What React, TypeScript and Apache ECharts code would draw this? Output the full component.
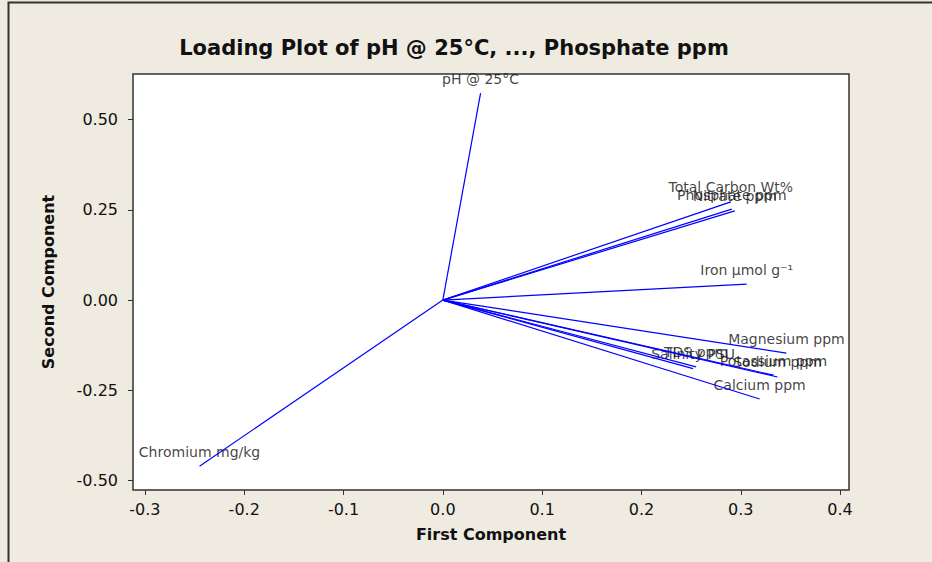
import React, { useEffect, useRef } from "react";
import * as echarts from "echarts";

const variableNames = [
  "pH @ 25°C",
  "Total Carbon Wt%",
  "Phosphate ppm",
  "Nitrate ppm",
  "Iron µmol g⁻¹",
  "Magnesium ppm",
  "TDS ppm",
  "Salinity PSU",
  "Potassium ppm",
  "Sodium ppm",
  "Calcium ppm",
  "Chromium mg/kg",
];
const firstComponent = [0.038, 0.29, 0.291, 0.294, 0.306, 0.346, 0.255, 0.252, 0.333, 0.337, 0.319, -0.245];
const secondComponent = [0.573, 0.272, 0.252, 0.247, 0.044, -0.147, -0.185, -0.19, -0.208, -0.213, -0.274, -0.46];
const xTicks = [-0.3, -0.2, -0.1, 0.0, 0.1, 0.2, 0.3, 0.4];
const yTicks = [-0.5, -0.25, 0.0, 0.25, 0.5];

const FONT = 'Verdana, "DejaVu Sans", sans-serif';

export default function App() {
  const ref = useRef<HTMLDivElement>(null);
  useEffect(() => {
    if (!ref.current) return;
    const chart = echarts.init(ref.current, undefined, { renderer: "svg" });
    const lineSeries = variableNames.map((n, i) => ({
      type: "line",
      name: n,
      data: [
        [0, 0],
        [firstComponent[i], secondComponent[i]],
      ],
      symbol: "none",
      lineStyle: { color: "#0000FF", width: 1.2 },
      silent: true,
    }));
    chart.setOption({
      animation: false,
      backgroundColor: "#EFEBE1",
      textStyle: { fontFamily: FONT },
      title: {
        text: "Loading Plot of pH @ 25°C, ..., Phosphate ppm",
        left: 449,
        textAlign: "center",
        top: 32,
        textStyle: { fontFamily: FONT, fontSize: 21, fontWeight: "bold", color: "#111" },
      },
      graphic: [
        {
          type: "rect",
          shape: { x: 8.5, y: 2.5, width: 1200, height: 1200 },
          style: { fill: "none", stroke: "#333", lineWidth: 2 },
          silent: true,
        },
      ],
      grid: {
        left: 133,
        top: 74,
        right: 83,
        bottom: 72,
        show: true,
        backgroundColor: "#FFFFFF",
        borderColor: "#333",
        borderWidth: 1.5,
      },
      xAxis: {
        type: "value",
        min: -0.312,
        max: 0.409,
        name: "First Component",
        nameLocation: "middle",
        nameGap: 36,
        nameTextStyle: { fontFamily: FONT, fontSize: 16, fontWeight: "bold", color: "#111" },
        axisLine: { show: false, onZero: false },
        splitLine: { show: false },
        axisTick: {
          show: true,
          length: 5,
          customValues: xTicks,
          lineStyle: { color: "#333" },
        },
        axisLabel: {
          customValues: xTicks,
          formatter: (v: number) => v.toFixed(1),
          fontFamily: FONT,
          fontSize: 16,
          color: "#111",
          margin: 11,
        },
      },
      yAxis: {
        type: "value",
        min: -0.526,
        max: 0.626,
        name: "Second Component",
        nameLocation: "middle",
        nameGap: 77,
        nameTextStyle: { fontFamily: FONT, fontSize: 16, fontWeight: "bold", color: "#111" },
        axisLine: { show: false, onZero: false },
        splitLine: { show: false },
        axisTick: {
          show: true,
          length: 5,
          customValues: yTicks,
          lineStyle: { color: "#333" },
        },
        axisLabel: {
          customValues: yTicks,
          formatter: (v: number) => v.toFixed(2),
          fontFamily: FONT,
          fontSize: 16,
          color: "#111",
          margin: 15,
        },
      },
      series: [
        ...lineSeries,
        {
          type: "scatter",
          data: variableNames.map((n, i) => ({ name: n, value: [firstComponent[i], secondComponent[i]] })),
          symbol: "circle",
          symbolSize: 1,
          itemStyle: { color: "rgba(0,0,0,0)" },
          silent: true,
          label: {
            show: true,
            position: "top",
            distance: 7,
            formatter: (p: any) => p.name,
            fontFamily: FONT,
            fontSize: 14,
            color: "#111",
          },
          labelLayout: { hideOverlap: false },
        },
      ],
    });
    return () => chart.dispose();
  }, []);
  return <div ref={ref} style={{ position: "absolute", left: 0, top: 0, width: 932, height: 562 }} />;
}
